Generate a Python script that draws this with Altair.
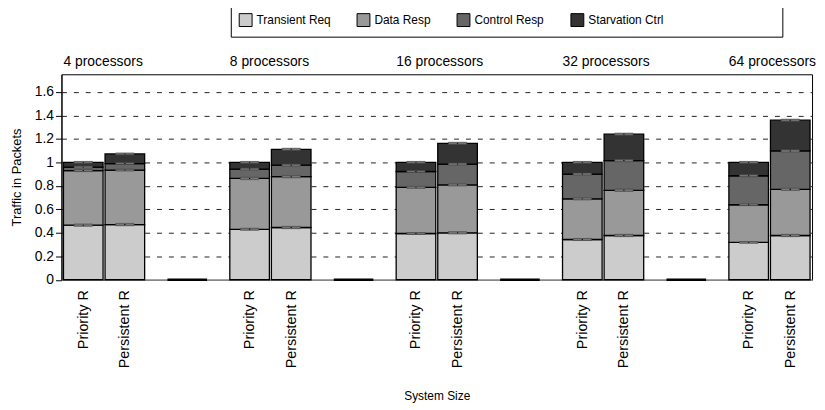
import altair as alt
import pandas as pd

groups = ["4 processors", "8 processors", "16 processors", "32 processors", "64 processors"]
protocols = ["Priority R", "Persistent R"]
components = ["Transient Req", "Data Resp", "Control Resp", "Starvation Ctrl"]
colors = ["#cccccc", "#999999", "#666666", "#333333"]
y_ticks = [0, 0.2, 0.4, 0.6, 0.8, 1, 1.2, 1.4, 1.6]

# one value per bar: group-major, protocol-minor
transient = [0.465, 0.470, 0.430, 0.445, 0.394, 0.400, 0.343, 0.377, 0.318, 0.377]
data_resp = [0.465, 0.464, 0.433, 0.433, 0.393, 0.408, 0.346, 0.385, 0.321, 0.393]
control = [0.030, 0.056, 0.080, 0.098, 0.135, 0.177, 0.211, 0.253, 0.247, 0.327]
starvation = [0.040, 0.082, 0.057, 0.135, 0.078, 0.177, 0.100, 0.225, 0.114, 0.262]

err_transient = [0.010, 0.010, 0.009, 0.010, 0.008, 0.010, 0.009, 0.010, 0.008, 0.010]
err_data = [0.009, 0.008, 0.010, 0.010, 0.009, 0.009, 0.009, 0.010, 0.008, 0.010]
err_control = [0.008, 0.008, 0.008, 0.009, 0.008, 0.009, 0.009, 0.010, 0.009, 0.010]
err_starv = [0.008, 0.008, 0.008, 0.009, 0.008, 0.009, 0.008, 0.009, 0.008, 0.009]

SLOTS_PER_GROUP = 4
HALF = 0.476
series = [transient, data_resp, control, starvation]
errs = [err_transient, err_data, err_control, err_starv]

rows = []
for g in range(len(groups)):
    for p in range(len(protocols)):
        i = g * len(protocols) + p
        pos = g * SLOTS_PER_GROUP + p
        base = 0.0
        for c, comp in enumerate(components):
            v = series[c][i]
            e = errs[c][i]
            top = base + v
            rows.append({
                "group": groups[g], "protocol": protocols[p], "component": comp,
                "order": c, "pos": pos, "x0": pos - HALF, "x1": pos + HALF,
                "y0": base, "y1": top,
                "elo": top - e, "ehi": top + e,
                "tlo": top - e * 0.45, "thi": top + e * 0.45,
                "cx0": pos - 0.22, "cx1": pos + 0.22,
            })
            base = top
df = pd.DataFrame(rows)

sep = pd.DataFrame({"pos": [g * SLOTS_PER_GROUP + 2.5 for g in range(len(groups) - 1)]})
sep["a"] = sep["pos"] - HALF
sep["b"] = sep["pos"] + HALF
sep["zero"] = 0.0

glab = pd.DataFrame({"name": groups, "gx": [g * SLOTS_PER_GROUP - HALF for g in range(len(groups))]})

tick_positions = [g * SLOTS_PER_GROUP + p for g in range(len(groups)) for p in range(len(protocols))]
label_expr = f"datum.value % {SLOTS_PER_GROUP} == 0 ? '{protocols[0]}' : '{protocols[1]}'"

FONT = "Liberation Sans"

xscale = alt.Scale(domain=[-0.524, 17.524], nice=False, zero=False)
yscale = alt.Scale(domain=[0, 1.75], nice=False)

xaxis = alt.Axis(
    values=tick_positions, labelExpr=label_expr, labelAngle=270, labelAlign="right",
    labelBaseline="middle", labelFontSize=14.5, labelFont=FONT, labelColor="black",
    labelPadding=10, labelOverlap=False, ticks=False, grid=False,
    domainColor="#888888", domainWidth=1.5,
    title="System Size", titleFont=FONT, titleFontSize=12, titleFontWeight="normal",
    titleColor="black", titlePadding=23,
)
yaxis = alt.Axis(
    values=y_ticks, format="~g",
    labelFontSize=14, labelFont=FONT, labelColor="black", labelPadding=2,
    labelOverlap=False,
    tickSize=6, tickColor="black", domainColor="black", domainWidth=1,
    grid=True, gridColor="#222222", gridDash=[5, 7], gridWidth=1,
    gridOpacity={"condition": {"test": "datum.value === 0", "value": 0}, "value": 1},
    title="Traffic in Packets", titleFont=FONT, titleFontSize=13, titleFontWeight="normal",
    titleColor="black", titlePadding=11,
)

bars = alt.Chart(df).mark_rect(stroke="black", strokeWidth=1.3).encode(
    x=alt.X("x0:Q", scale=xscale, axis=xaxis),
    x2="x1:Q",
    y=alt.Y("y0:Q", scale=yscale, axis=yaxis),
    y2="y1:Q",
    color=alt.Color(
        "component:N",
        scale=alt.Scale(domain=components, range=colors),
        legend=alt.Legend(
            title="\u00a0", titleOrient="right", titlePadding=112,
            orient="none", legendX=171, legendY=-70, direction="horizontal",
            columns=4, symbolType="square", symbolSize=169, symbolStrokeColor="black",
            symbolStrokeWidth=1, labelFont=FONT, labelFontSize=12, labelColor="black",
            labelOffset=4, columnPadding=24, padding=8, strokeColor="black",
            fillColor="white",
        ),
    ),
)

caps = alt.Chart(df).mark_rect(fill="#777777", stroke="#444444", strokeWidth=0.6).encode(
    x=alt.X("cx0:Q", scale=xscale, axis=xaxis), x2="cx1:Q",
    y=alt.Y("elo:Q", scale=yscale, axis=yaxis), y2="ehi:Q",
)
whisk = alt.Chart(df).mark_rule(color="black", strokeWidth=1.2).encode(
    x=alt.X("pos:Q", scale=xscale, axis=xaxis),
    y=alt.Y("tlo:Q", scale=yscale, axis=yaxis), y2="thi:Q",
)
seps = alt.Chart(sep).mark_rule(color="black", strokeWidth=2.5).encode(
    x=alt.X("a:Q", scale=xscale, axis=xaxis), x2="b:Q",
    y=alt.Y("zero:Q", scale=yscale, axis=yaxis),
)
labels = alt.Chart(glab).mark_text(
    align="left", baseline="alphabetic", font=FONT, fontSize=14, color="black",
).encode(
    x=alt.X("gx:Q", scale=xscale, axis=xaxis), y=alt.value(-8), text="name:N",
)

chart = alt.layer(bars, caps, whisk, seps, labels).properties(
    width=758, height=207.5,
    autosize=alt.AutoSizeParams(type="none"),
    padding={"left": 54, "top": 65, "right": 5, "bottom": 122},
).configure_view(stroke="black", strokeWidth=1)

chart.save("out.html", embed_options={"renderer": "svg", "actions": False})
